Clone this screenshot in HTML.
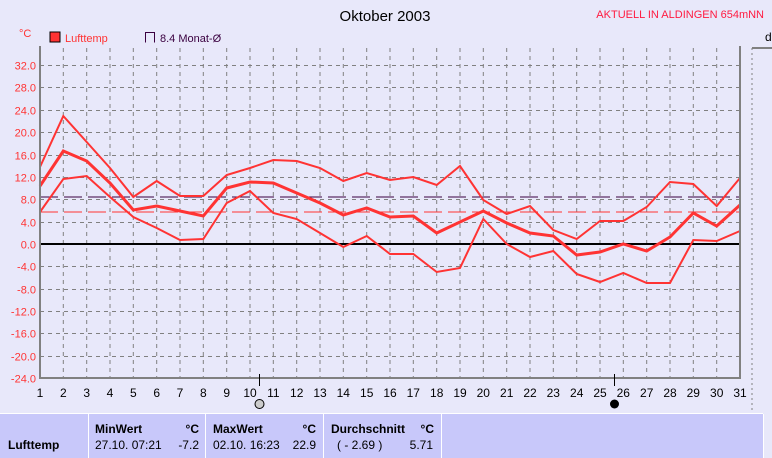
<!DOCTYPE html>
<html><head><meta charset="utf-8"><style>
html,body{margin:0;padding:0;background:#e8e8fa;}
svg{display:block;font-family:"Liberation Sans",sans-serif;}
</style></head><body>
<svg width="772" height="458" viewBox="0 0 772 458" xmlns="http://www.w3.org/2000/svg">
<rect width="772" height="458" fill="#e8e8fa"/>
<text x="385" y="21" font-size="15" text-anchor="middle" fill="#000">Oktober 2003</text>
<text x="764" y="18" font-size="11" text-anchor="end" fill="#ff1a40">AKTUELL IN ALDINGEN 654mNN</text>
<text x="19" y="37" font-size="11" fill="#ff3333">°C</text>
<rect x="50" y="32" width="10" height="10" fill="#ff3333" stroke="#000" stroke-width="1"/>
<text x="65" y="42" font-size="11" fill="#ff3333">Lufttemp</text>
<path d="M145.5,42.5 V32.5 H154.5 V42.5" fill="none" stroke="#3a0040"/>
<text x="160" y="42" font-size="11" fill="#3a0040">8.4 Monat-Ø</text>
<text x="765" y="41" font-size="12" fill="#000">d</text>
<g id="grid" stroke="#808080" stroke-dasharray="4,4" stroke-width="1"></g>
<g id="ylab" font-size="11" fill="#ff3333" text-anchor="end"></g>
<g id="xlab" font-size="12" fill="#000" text-anchor="middle"></g>
<line x1="40" y1="197" x2="740" y2="197" stroke="#3a0040" stroke-dasharray="18,6"/>
<line x1="40" y1="212" x2="740" y2="212" stroke="#ff3333" stroke-dasharray="18,6"/>
<line x1="40" y1="244" x2="740" y2="244" stroke="#000" stroke-width="2"/>
<polyline id="pmax" fill="none" stroke="#ff3333" stroke-width="2"/>
<polyline id="pavg" fill="none" stroke="#ff3333" stroke-width="3"/>
<polyline id="pmin" fill="none" stroke="#ff3333" stroke-width="2"/>
<path d="M40,46 V378 H740 V46" fill="none" stroke="#808080" stroke-width="2"/>
<line x1="259.5" y1="374" x2="259.5" y2="386" stroke="#000"/>
<line x1="614.5" y1="374" x2="614.5" y2="386" stroke="#000"/>
<circle cx="259.5" cy="404" r="4.5" fill="#ccc" stroke="#000"/>
<circle cx="614.5" cy="404" r="4.5" fill="#000"/>
<line x1="752" y1="48" x2="772" y2="48" stroke="#808080" stroke-width="2"/>
<line x1="752" y1="48" x2="752" y2="458" stroke="#808080" stroke-dasharray="2,3"/>
<rect x="0" y="414" width="763" height="44" fill="#c8c8fa"/>
<line x1="0" y1="413.5" x2="763" y2="413.5" stroke="#fff"/>
<g stroke="#fff"><line x1="88.5" y1="414" x2="88.5" y2="458"/><line x1="205.5" y1="414" x2="205.5" y2="458"/><line x1="323.5" y1="414" x2="323.5" y2="458"/><line x1="441.5" y1="414" x2="441.5" y2="458"/><line x1="763.5" y1="414" x2="763.5" y2="458"/></g>
<g font-size="12" fill="#000">
<text x="8" y="449" font-weight="bold">Lufttemp</text>
<text x="95" y="433" font-weight="bold">MinWert</text><text x="199" y="433" font-weight="bold" text-anchor="end">°C</text>
<text x="95" y="449">27.10.  07:21</text><text x="199" y="449" text-anchor="end">-7.2</text>
<text x="213" y="433" font-weight="bold">MaxWert</text><text x="316" y="433" font-weight="bold" text-anchor="end">°C</text>
<text x="213" y="449">02.10.  16:23</text><text x="316" y="449" text-anchor="end">22.9</text>
<text x="331" y="433" font-weight="bold">Durchschnitt</text><text x="434" y="433" font-weight="bold" text-anchor="end">°C</text>
<text x="337" y="449">( - 2.69 )</text><text x="433" y="449" text-anchor="end">5.71</text>
</g>
</svg>
<script>
const ns="http://www.w3.org/2000/svg";
const X=d=>40+(d-1)*700/30, Y=v=>244-v*5.59;
const g=document.getElementById('grid'),yl=document.getElementById('ylab'),xl=document.getElementById('xlab');
function mk(p,tag,a,t){const e=document.createElementNS(ns,tag);for(const k in a)e.setAttribute(k,a[k]);if(t)e.textContent=t;p.appendChild(e);}
for(let d=2;d<=30;d++)mk(g,'line',{x1:X(d).toFixed(1),y1:48,x2:X(d).toFixed(1),y2:378});
for(let v=32;v>=-24;v-=4){const y=Math.round(Y(v))+.5;if(v>-24&&v!==0)mk(g,'line',{x1:40,y1:y,x2:740,y2:y});mk(yl,'text',{x:36,y:y+4},v.toFixed(1));}
for(let d=1;d<=31;d++)mk(xl,'text',{x:X(d).toFixed(1),y:397},String(d));
const mx=[167,116,142,168,197,181,196,196,175,168,160,161,168,181,173,180,177,185,166,200,214,206,230,239,221,221,207,182,184,206,178];
const av=[186,151,161,183,210,206,211,216,188,182,183,193,203,215,208,217,216,233,222,211,223,233,236,255,252,244,251,237,213,226,205];
const mn=[212,179,176,197,217,228,240,239,203,191,213,219,233,247,236,254,254,272,268,219,244,257,251,274,282,273,283,283,240,241,231];
const pts=a=>a.map((y,i)=>X(i+1).toFixed(1)+','+y).join(' ');
document.getElementById('pmax').setAttribute('points',pts(mx));
document.getElementById('pavg').setAttribute('points',pts(av));
document.getElementById('pmin').setAttribute('points',pts(mn));
</script>
</body></html>
